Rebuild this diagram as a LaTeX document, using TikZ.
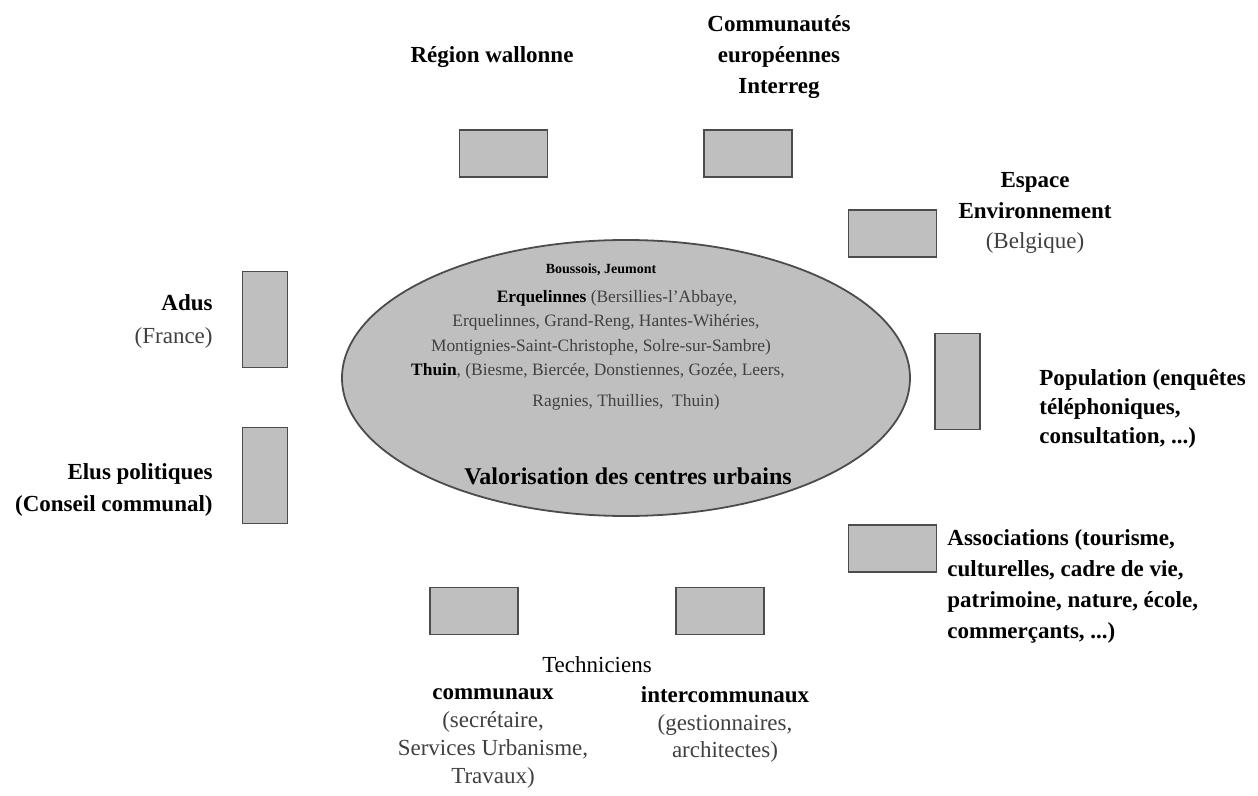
\documentclass[tikz,border=0pt]{standalone}
\usepackage{fontspec}
\setmainfont{Liberation Serif}
\usetikzlibrary{shapes.geometric}

\tikzset{
  hbox/.style={draw=black!70,line width=0.9pt,fill=black!25,minimum width=44pt,minimum height=23.5pt,inner sep=0pt},
  vbox/.style={draw=black!70,line width=0.9pt,fill=black!25,minimum width=22.5pt,minimum height=48pt,inner sep=0pt},
  lab/.style={font=\fontsize{11.5}{15.3}\selectfont,inner sep=0pt},
  ell/.style={font=\fontsize{8.7}{10}\selectfont,text=black!75,inner sep=0pt}
}
\newcommand{\rg}[1]{\textcolor{black!75}{\mdseries #1}}

\begin{document}
\begin{tikzpicture}[x=0.5pt,y=-0.5pt]
\useasboundingbox (0,0) rectangle (1258,796);
%centre
\node[ellipse,draw=black!70,line width=0.9pt,fill=black!25,minimum width=284pt,minimum height=138pt,inner sep=0pt] (core) at (626,378) {};
\node[ell,font=\fontsize{7}{8}\selectfont\bfseries,text=black] (e1) at (601,270) {Boussois, Jeumont};
\node[ell] (e2) at (617,298) {\textcolor{black}{\bfseries Erquelinnes} (Bersillies-l'Abbaye,};
\node[ell] (e3) at (606,322) {Erquelinnes, Grand-Reng, Hantes-Wihéries,};
\node[ell] (e4) at (601,347) {Montignies-Saint-Christophe, Solre-sur-Sambre)};
\node[ell] (e5) at (598,371) {\textcolor{black}{\bfseries Thuin}, (Biesme, Biercée, Donstiennes, Gozée, Leers,};
\node[ell] (e6) at (626,402) {Ragnies, Thuillies,\ \ Thuin)};
\node[ell,font=\fontsize{12}{14}\selectfont\bfseries,text=black] (e7) at (628,476) {Valorisation des centres urbains};
%top
\node[hbox] (reg) at (503.5,153.5) {};
\node[hbox] (com) at (748,153.5) {};
\node[lab,font=\fontsize{11.5}{15.3}\selectfont\bfseries] (reglab) at (492,57) {Région wallonne};
\node[lab,font=\fontsize{11.5}{15.3}\selectfont\bfseries,align=center] (comlab) at (779,57) {Communautés\\européennes\\Interreg};
%right
\node[hbox] (esp) at (892.5,233.5) {};
\node[lab,align=center] (esplab) at (1035,213) {\textbf{Espace}\\\textbf{Environnement}\\\rg{(Belgique)}};
\node[vbox] (pop) at (957.5,381.5) {};
\node[lab,font=\fontsize{11.5}{14.5}\selectfont\bfseries,align=left,anchor=west] (poplab) at (1039,409) {Population (enquêtes\\téléphoniques,\\consultation, ...)};
\node[hbox] (asso) at (892.5,548.5) {};
\node[lab,font=\fontsize{11.5}{15.5}\selectfont\bfseries,align=left,anchor=west] (assolab) at (947,586.5) {Associations (tourisme,\\culturelles, cadre de vie,\\patrimoine, nature, école,\\commerçants, ...)};
%left
\node[vbox] (adus) at (265,319.5) {};
\node[lab,font=\fontsize{11.5}{16.5}\selectfont,align=right,anchor=east] (aduslab) at (213,321.5) {\textbf{Adus}\\\rg{(France)}};
\node[vbox] (elus) at (265,475.5) {};
\node[lab,font=\fontsize{11.5}{16}\selectfont\bfseries,align=right,anchor=east] (eluslab) at (213,490) {Elus politiques\\(Conseil communal)};
%bottom
\node[hbox] (tcom) at (474,611) {};
\node[hbox] (tint) at (720,611) {};
\node[lab] (techlab) at (597,665) {Techniciens};
\node[lab,font=\fontsize{11.5}{13.9}\selectfont,align=center] (tcomlab) at (493,738.5) {\textbf{communaux}\\\rg{(secrétaire,}\\\rg{Services Urbanisme,}\\\rg{Travaux)}};
\node[lab,font=\fontsize{11.5}{13.9}\selectfont,align=center] (tintlab) at (725,724.5) {\textbf{intercommunaux}\\\rg{(gestionnaires,}\\\rg{architectes)}};
\end{tikzpicture}
\end{document}
